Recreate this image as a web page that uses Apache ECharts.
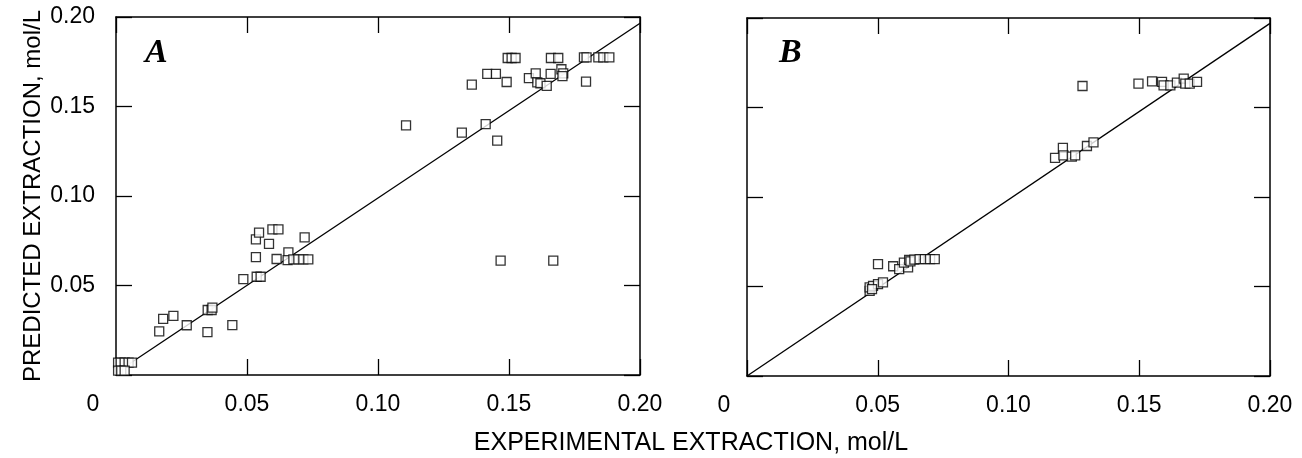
<!DOCTYPE html>
<html>
<head>
<meta charset="utf-8">
<script src="https://cdn.jsdelivr.net/npm/echarts@6/dist/echarts.min.js"></script>
<style>
html,body{margin:0;padding:0;background:#fff;}
#chart{width:1302px;height:458px;}
</style>
</head>
<body>
<div id="chart"></div>
<script>
// Panel A: experimental (x) vs predicted (y), mol/L
const aX = [0.0008,0.0018,0.0033,0.0048,0.0061,0.0008,0.0020,0.0033,
  0.0165,0.0180,0.0219,0.0270,0.0349,0.0350,0.0365,0.0368,0.0444,0.0486,0.0537,0.0552,
  0.0534,0.0534,0.0546,0.0584,0.0597,0.0620,0.0613,0.0658,0.0655,0.0677,0.0696,0.0715,0.0734,0.0720,
  0.1107,0.1320,0.1411,0.1455,0.1358,0.1417,0.1450,0.1491,0.1495,0.1510,0.1525,0.1576,0.1602,0.1608,
  0.1620,0.1644,0.1659,0.1660,0.1688,0.1700,0.1707,0.1704,0.1786,0.1796,0.1794,0.1841,0.1860,0.1883,
  0.1468,0.1669];
const aY = [0.0069,0.0069,0.0069,0.0069,0.0069,0.0024,0.0024,0.0024,
  0.0244,0.0313,0.0330,0.0278,0.0240,0.0363,0.0363,0.0376,0.0279,0.0536,0.0549,0.0549,
  0.0659,0.0758,0.0795,0.0732,0.0814,0.0814,0.0648,0.0685,0.0642,0.0646,0.0646,0.0646,0.0646,0.0769,
  0.1395,0.1354,0.1402,0.1309,0.1622,0.1682,0.1682,0.1637,0.1771,0.1771,0.1771,0.1659,0.1685,0.1635,
  0.1630,0.1615,0.1682,0.1771,0.1771,0.1708,0.1685,0.1670,0.1775,0.1775,0.1639,0.1775,0.1775,0.1775,
  0.0639,0.0639];
// Panel B
const bX = [0.0469,0.0469,0.0482,0.0501,0.0520,0.0478,0.0501,0.0559,0.0582,0.0616,0.0600,0.0620,
  0.0625,0.0640,0.0660,0.0680,0.0700,0.0718,
  0.1178,0.1208,0.1210,0.1242,0.1255,0.1300,0.1325,
  0.1283,0.1497,0.1549,0.1587,0.1593,0.1619,0.1644,0.1670,0.1676,0.1693,0.1721];
const bY = [0.0476,0.0495,0.0504,0.0513,0.0523,0.0485,0.0625,0.0613,0.0597,0.0607,0.0633,0.0648,
  0.0640,0.0650,0.0653,0.0653,0.0653,0.0653,
  0.1219,0.1275,0.1232,0.1226,0.1232,0.1285,0.1305,
  0.1620,0.1633,0.1646,0.1643,0.1624,0.1624,0.1639,0.1661,0.1633,0.1633,0.1643];
// Fitted / parity lines (endpoints)
const aLineX = [0.004, 0.2];
const aLineY = [0.0052, 0.1965];
const bLineX = [0, 0.2];
const bLineY = [0, 0.197];
const ticks = [0, 0.05, 0.10, 0.15, 0.20];
const yTitle = 'PREDICTED EXTRACTION, mol/L';
const xTitle = 'EXPERIMENTAL EXTRACTION, mol/L';
const panelLabels = ['A', 'B'];

const zip = (xs, ys) => xs.map((x, i) => [x, ys[i]]);
const FONT = '"Liberation Sans", Arial, sans-serif';
const lineStyle = {color: '#000', width: 1.5};

function xAxisDef(grid, bottom) {
  return {
    type: 'value', gridIndex: grid, min: ticks[0], max: ticks[ticks.length - 1], interval: 0.05,
    position: bottom ? 'bottom' : 'top',
    axisLine: {show: true, onZero: false, lineStyle},
    axisTick: {show: true, inside: true, length: 16, lineStyle: {color: '#000', width: 1.3}},
    splitLine: {show: false},
    axisLabel: bottom ? {
      show: true, margin: 18, color: '#000', fontSize: 23, fontFamily: FONT,
      formatter: v => Math.abs(v) < 1e-9 ? '{z|0}' : v.toFixed(2),
      rich: {z: {fontSize: 23, fontFamily: FONT, color: '#000', padding: [0, 46, 0, 0]}}
    } : {show: false}
  };
}
function yAxisDef(grid, left, labels) {
  const ax = {
    type: 'value', gridIndex: grid, min: ticks[0], max: ticks[ticks.length - 1], interval: 0.05,
    position: left ? 'left' : 'right',
    axisLine: {show: true, onZero: false, lineStyle},
    axisTick: {show: true, inside: true, length: 16, lineStyle: {color: '#000', width: 1.3}},
    splitLine: {show: false},
    axisLabel: labels ? {
      show: true, margin: 21, color: '#000', fontSize: 23, fontFamily: FONT,
      formatter: v => Math.abs(v) < 1e-9 ? '' : v.toFixed(2)
    } : {show: false}
  };
  if (labels) {
    ax.name = yTitle;
    ax.nameLocation = 'middle';
    ax.nameGap = 71;
    ax.nameTextStyle = {color: '#000', fontSize: 24, fontFamily: FONT};
  }
  return ax;
}
const sym = {
  type: 'scatter', symbol: 'rect', symbolSize: 9,
  itemStyle: {color: '#fff', borderColor: '#000', borderWidth: 1.3},
  z: 3
};
const option = {
  backgroundColor: '#fff',
  animation: false,
  grid: [
    {left: 116, top: 17, width: 524, height: 358},
    {left: 747, top: 18, width: 523, height: 358}
  ],
  xAxis: [xAxisDef(0, true), xAxisDef(0, false), xAxisDef(1, true), xAxisDef(1, false)],
  yAxis: [yAxisDef(0, true, true), yAxisDef(0, false, false), yAxisDef(1, true, false), yAxisDef(1, false, false)],
  series: [
    {type: 'line', xAxisIndex: 0, yAxisIndex: 0, data: zip(aLineX, aLineY), symbol: 'none',
     lineStyle: {color: '#000', width: 1.3}, z: 2},
    {type: 'line', xAxisIndex: 2, yAxisIndex: 2, data: zip(bLineX, bLineY), symbol: 'none',
     lineStyle: {color: '#000', width: 1.3}, z: 2},
    Object.assign({}, sym, {xAxisIndex: 0, yAxisIndex: 0, data: zip(aX, aY)}),
    Object.assign({}, sym, {xAxisIndex: 2, yAxisIndex: 2, data: zip(bX, bY)})
  ],
  graphic: [
    {type: 'text', left: 145, top: 36, style: {text: panelLabels[0], fill: '#000',
      font: 'italic bold 34px "Liberation Serif", "DejaVu Serif", serif'}},
    {type: 'text', left: 779, top: 36, style: {text: panelLabels[1], fill: '#000',
      font: 'italic bold 34px "Liberation Serif", "DejaVu Serif", serif'}},
    {type: 'text', x: 691, y: 443, style: {text: xTitle, fill: '#000', align: 'center', verticalAlign: 'middle',
      font: '25px "Liberation Sans", Arial, sans-serif'}}
  ]
};
const chart = echarts.init(document.getElementById('chart'), null, {renderer: 'canvas'});
chart.setOption(option);
</script>
</body>
</html>
